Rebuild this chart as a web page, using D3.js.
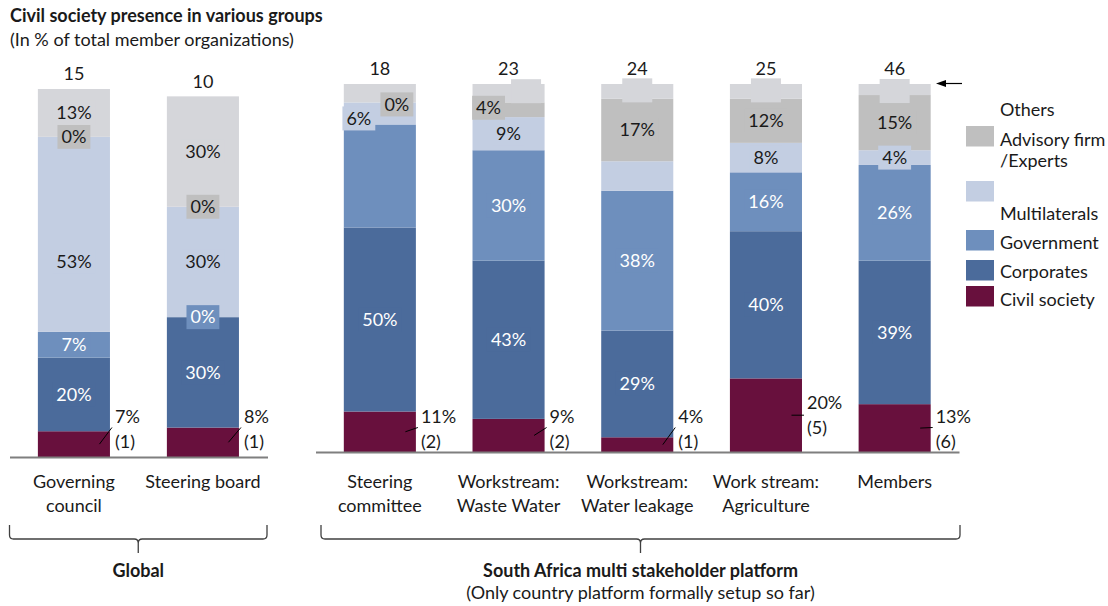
<!DOCTYPE html>
<html>
<head>
<meta charset="utf-8">
<script src="https://cdn.jsdelivr.net/npm/d3@7"></script>
<style>
  html, body { margin: 0; padding: 0; background: #fff; }
  svg { display: block; font-family: Lato, "Open Sans", sans-serif; }
</style>
</head>
<body>
<svg id="chart" width="1108" height="606"></svg>
<script>
// ---- data -------------------------------------------------------------
const groups = ["Global", "South Africa multi stakeholder platform"];
const groupNotes = ["", "(Only country platform formally setup so far)"];
const categories = ["Governing council", "Steering board", "Steering committee",
  "Workstream: Waste Water", "Workstream: Water leakage", "Work stream: Agriculture", "Members"];
const categoryGroup = [0, 0, 1, 1, 1, 1, 1];
const tickLabels = [["Governing", "council"], ["Steering board"], ["Steering", "committee"],
  ["Workstream:", "Waste Water"], ["Workstream:", "Water leakage"], ["Work stream:", "Agriculture"], ["Members"]];
const totals = [15, 10, 18, 23, 24, 25, 46];

// shares of member organizations, in %
const civilSociety  = [7, 8, 11, 9, 4, 20, 13];
const corporates    = [20, 30, 50, 43, 29, 40, 39];
const government    = [7, 0, 28, 30, 38, 16, 26];
const multilaterals = [53, 30, 6, 9, 8, 8, 4];
const advisory      = [0, 0, 0, 4, 17, 12, 15];
const others        = [13, 30, 5, 5, 4, 4, 3];
// number of civil society organizations
const civilCounts   = [1, 1, 2, 2, 1, 5, 6];

// which segment labels are printed: 1 = value, 2 = blank label box, 0 = none
const corporatesLabels    = [1, 1, 1, 1, 1, 1, 1];
const governmentLabels    = [1, 1, 0, 1, 1, 1, 1];
const multilateralsLabels = [1, 1, 1, 1, 0, 1, 1];
const advisoryLabels      = [1, 1, 1, 1, 1, 1, 1];
const othersLabels        = [1, 1, 0, 2, 2, 2, 2];

// ---- setup ------------------------------------------------------------
const keys = ["civil", "corp", "gov", "multi", "adv", "oth"];
const colors = {
  civil: "#68103d", corp: "#4b6b9b", gov: "#6e8fbd",
  multi: "#c3cee2", adv: "#bfbfbf", oth: "#d5d6da"
};
const labelModes = { corp: corporatesLabels, gov: governmentLabels, multi: multilateralsLabels,
  adv: advisoryLabels, oth: othersLabels };
const whiteText = { corp: true, gov: true };
const FS = 18;

const rows = categories.map((c, i) => ({
  category: c, i,
  civil: civilSociety[i], corp: corporates[i], gov: government[i],
  multi: multilaterals[i], adv: advisory[i], oth: others[i]
}));
const stacked = d3.stack().keys(keys)(rows);

const svg = d3.select("#chart");
const ink = "#1a1a1a";

const layout = [
  { range: [9.5, 267.5], base: 457, brace: [9.5, 267] },
  { range: [315.5, 959], base: 452, brace: [321, 960] }
];
const barSpan = 368; // height of 100 %
const xScales = layout.map((g, gi) => d3.scaleBand()
  .domain(categories.filter((c, i) => categoryGroup[i] === gi))
  .range(g.range).paddingInner(0.44).paddingOuter(0.22));
const yScales = layout.map(g => d3.scaleLinear().domain([0, 100]).range([g.base, g.base - barSpan]));

const xOf = i => xScales[categoryGroup[i]](categories[i]);
const yOf = (i, v) => yScales[categoryGroup[i]](v);
const bw = xScales[1].bandwidth();

// ---- title ------------------------------------------------------------
svg.append("text").attr("x", 10).attr("y", 22)
  .attr("font-size", FS).attr("font-weight", "bold").attr("fill", ink)
  .text("Civil society presence in various groups");
svg.append("text").attr("x", 10).attr("y", 46)
  .attr("font-size", FS).attr("fill", ink)
  .text("(In % of total member organizations)");

// ---- bars -------------------------------------------------------------
const barLayer = svg.append("g");
stacked.forEach(s => {
  barLayer.append("g").attr("fill", colors[s.key])
    .selectAll("rect").data(s).join("rect")
    .attr("x", d => xOf(d.data.i))
    .attr("y", d => yOf(d.data.i, d[1]))
    .attr("width", bw)
    .attr("height", d => yOf(d.data.i, d[0]) - yOf(d.data.i, d[1]));
});

// ---- axes -------------------------------------------------------------
layout.forEach((g, gi) => {
  const ax = svg.append("g").attr("transform", `translate(0,${g.base})`)
    .call(d3.axisBottom(xScales[gi]).tickSize(0).tickSizeOuter(0).tickFormat(""));
  ax.select(".domain").attr("stroke", "#7f7f7f").attr("stroke-width", 2);
});

// category labels
categories.forEach((c, i) => {
  const cx = xOf(i) + bw / 2;
  const t = svg.append("text").attr("text-anchor", "middle")
    .attr("font-size", FS).attr("fill", ink);
  tickLabels[i].forEach((line, li) => {
    t.append("tspan").attr("x", cx).attr("y", 482 + li * 24).attr("dy", "0.35em").text(line);
  });
});

// totals above bars
rows.forEach((r, i) => {
  const sum = keys.reduce((a, k) => a + r[k], 0);
  svg.append("text").attr("x", xOf(i) + bw / 2).attr("y", yOf(i, sum) - 15)
    .attr("dy", "0.35em").attr("text-anchor", "middle")
    .attr("font-size", FS).attr("fill", ink).text(totals[i]);
});

// ---- segment labels ---------------------------------------------------
// hand-placed nudges for a few crowded labels
const nudges = {
  "multi|0": [0, 27],
  "multi|2": [-21, 5],
  "adv|2": [17, 2],
  "adv|3": [-20, -2],
  "oth|3": [17.5, -2],
  "oth|4": [0, -1], "oth|5": [0, -1], "oth|6": [0, 1.5]
};
const labelLayer = svg.append("g");
stacked.filter(s => s.key !== "civil").forEach(s => {
  s.forEach(d => {
    const i = d.data.i;
    const mode = labelModes[s.key][i];
    if (!mode) return;
    const [dx, dy] = nudges[`${s.key}|${i}`] || [0, 0];
    const cx = xOf(i) + bw / 2 + dx;
    const cy = (yOf(i, d[0]) + yOf(i, d[1])) / 2 + dy;
    const g = labelLayer.append("g");
    const rect = g.append("rect").attr("fill", colors[s.key]);
    let w = 30;
    if (mode === 1) {
      const t = g.append("text").attr("x", cx).attr("y", cy).attr("dy", "0.35em")
        .attr("text-anchor", "middle").attr("font-size", FS)
        .attr("fill", whiteText[s.key] ? "#ffffff" : ink)
        .text(`${d.data[s.key]}%`);
      w = t.node().getComputedTextLength() + 8;
    }
    rect.attr("x", cx - w / 2).attr("y", cy - 12).attr("width", w).attr("height", 24);
  });
});

// civil society call-outs
rows.forEach((r, i) => {
  const base = layout[categoryGroup[i]].base;
  const top = yOf(i, r.civil);
  const mid = (base + top) / 2;
  const right = xOf(i) + bw;
  const tall = r.civil >= 15;
  const endY = tall ? mid : 427.5;
  const line1 = tall ? mid - 12.5 : 416.5;
  svg.append("line")
    .attr("x1", right - 10.5).attr("y1", mid)
    .attr("x2", right + 2).attr("y2", endY)
    .attr("stroke", "#000").attr("stroke-width", 1);
  const t = svg.append("text").attr("font-size", FS).attr("fill", ink);
  t.append("tspan").attr("x", right + 5).attr("y", line1).attr("dy", "0.35em").text(`${r.civil}%`);
  t.append("tspan").attr("x", right + 5).attr("y", line1 + 25).attr("dy", "0.35em").text(`(${civilCounts[i]})`);
});

// ---- braces and group captions ----------------------------------------
layout.forEach((g, gi) => {
  const [x0, x1] = g.brace;
  const cx = (x0 + x1) / 2;
  const top = 525, mid = 539, bot = 553, r = 4;
  const p = d3.path();
  p.moveTo(x0, top);
  p.lineTo(x0, mid - r);
  p.quadraticCurveTo(x0, mid, x0 + r, mid);
  p.lineTo(cx - r, mid);
  p.quadraticCurveTo(cx, mid, cx, mid + r);
  p.lineTo(cx, bot);
  p.moveTo(cx, mid + r);
  p.quadraticCurveTo(cx, mid, cx + r, mid);
  p.lineTo(x1 - r, mid);
  p.quadraticCurveTo(x1, mid, x1, mid - r);
  p.lineTo(x1, top);
  svg.append("path").attr("d", p.toString()).attr("fill", "none")
    .attr("stroke", "#404040").attr("stroke-width", 1.3);
  svg.append("text").attr("x", cx).attr("y", 571).attr("dy", "0.35em")
    .attr("text-anchor", "middle").attr("font-size", FS).attr("font-weight", "bold")
    .attr("fill", ink).text(groups[gi]);
  if (groupNotes[gi]) {
    svg.append("text").attr("x", cx).attr("y", 593).attr("dy", "0.35em")
      .attr("text-anchor", "middle").attr("font-size", FS)
      .attr("fill", ink).text(groupNotes[gi]);
  }
});

// pointer arrow at the top of the last bar
svg.append("line").attr("x1", 962).attr("y1", 83.5).attr("x2", 944).attr("y2", 83.5)
  .attr("stroke", "#000").attr("stroke-width", 1.2);
svg.append("path").attr("d", "M936,83.5 L946,80 L946,87 Z").attr("fill", "#000");

// ---- legend -----------------------------------------------------------
const legendItems = [
  { key: null, lines: [["Others", 110]] },
  { key: "adv", box: 126, lines: [["Advisory firm", 140], ["/Experts", 161]] },
  { key: "multi", box: 181, lines: [["Multilaterals", 214]] },
  { key: "gov", box: 230, lines: [["Government", 243]] },
  { key: "corp", box: 260, lines: [["Corporates", 272]] },
  { key: "civil", box: 286, lines: [["Civil society", 300]] }
];
const legend = svg.append("g");
legendItems.forEach(it => {
  if (it.key) {
    legend.append("rect").attr("x", 966).attr("y", it.box).attr("width", 28).attr("height", 20.5)
      .attr("fill", colors[it.key]);
  }
  it.lines.forEach(([txt, y]) => {
    legend.append("text").attr("x", 1000).attr("y", y).attr("dy", "0.35em")
      .attr("font-size", FS).attr("fill", ink).text(txt);
  });
});
</script>
</body>
</html>
